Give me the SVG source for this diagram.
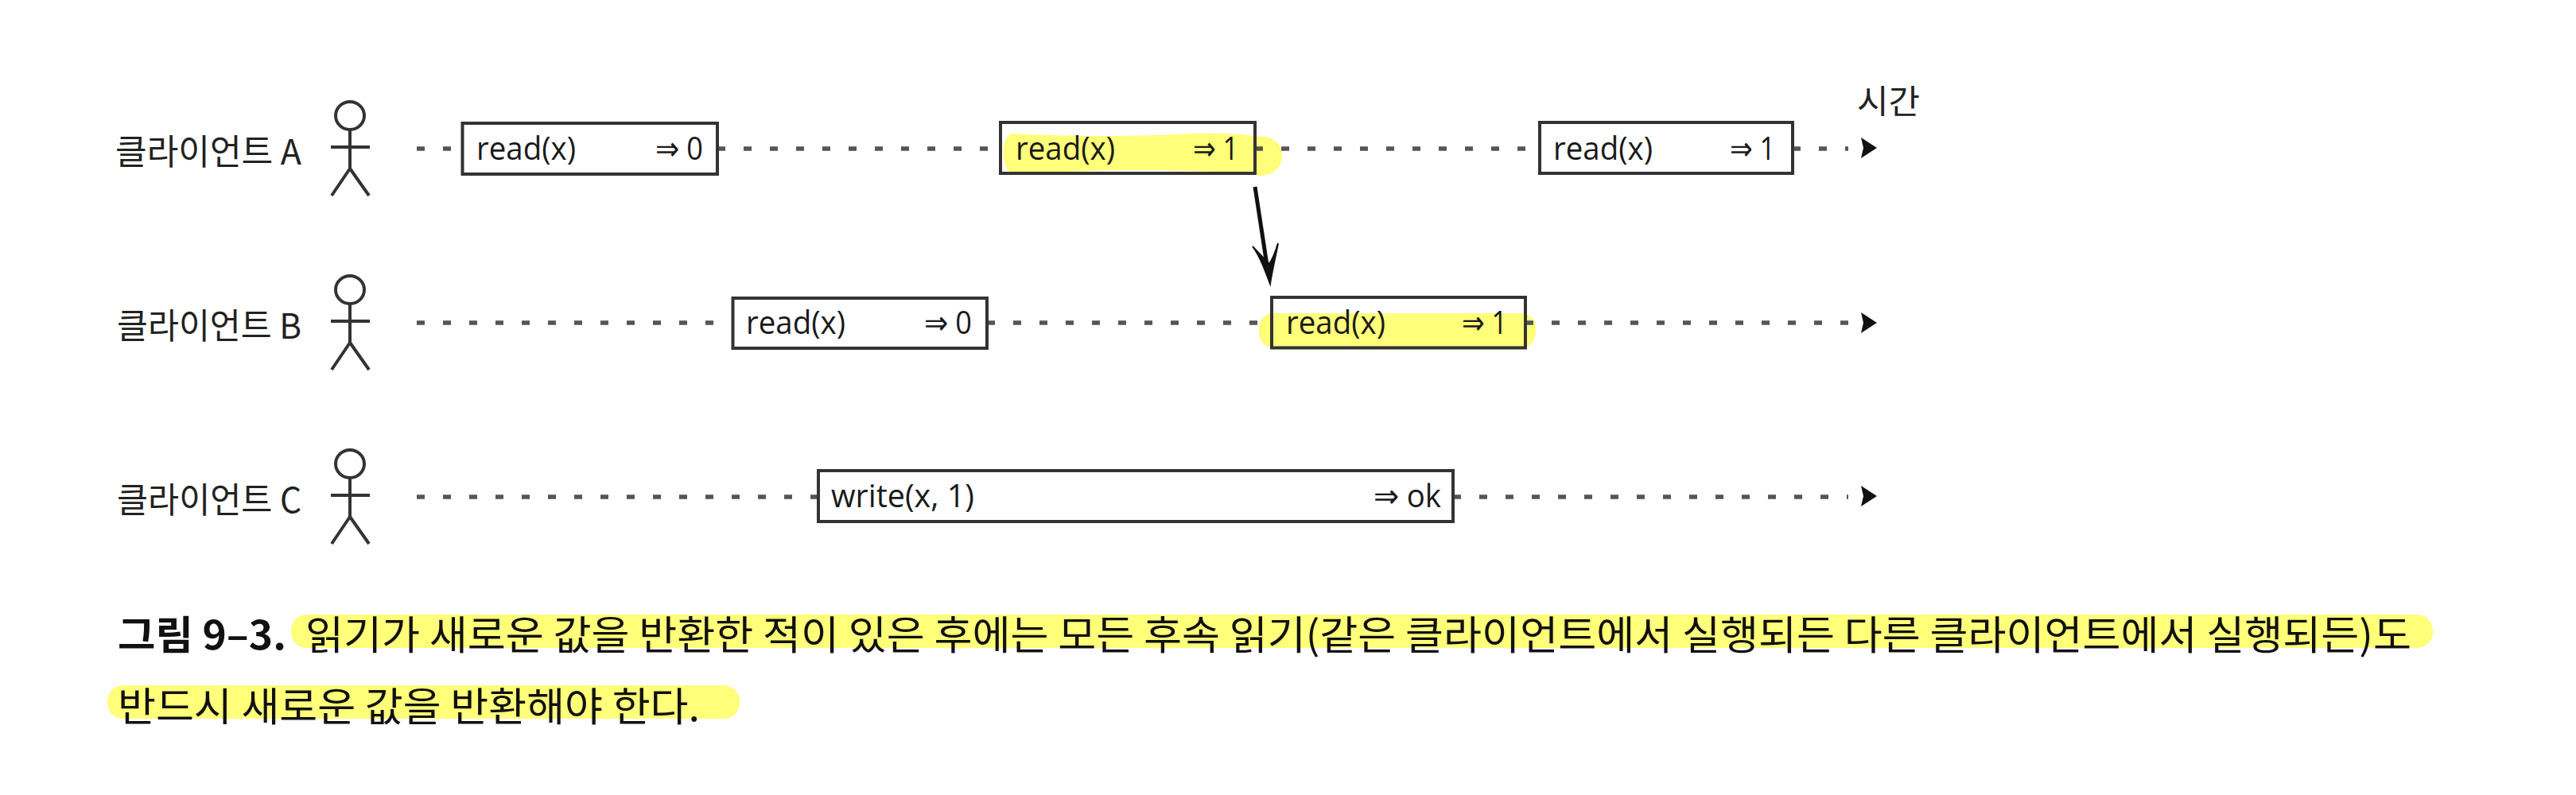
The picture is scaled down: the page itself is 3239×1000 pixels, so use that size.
<svg xmlns="http://www.w3.org/2000/svg" width="3239" height="1000" viewBox="0 0 3239 1000">
<style>
.ko{font-family:"Noto Sans CJK KR","Noto Sans",sans-serif;fill:#222}
.lb{font-size:44px;font-weight:400}
.t{font-family:"Open Sans","Noto Sans",sans-serif;font-size:41px;fill:#1a1a1a}
.cap{font-size:50px;fill:#111}
.box{fill:none;stroke:#333;stroke-width:4}
.man{fill:none;stroke:#333;stroke-width:4}
.dash{stroke:#555;stroke-width:5.500;stroke-dasharray:10 23;fill:none}
.hl{fill:#ffff7a}
.tip{fill:#111}
</style>
<defs>
<g id="man">
<ellipse class="man" cx="440" cy="145.500" rx="18" ry="17.500"/>
<path class="man" d="M440 163V212M416 185H465M440 212L417 246M440 212L464 246"/>
</g>
<path id="tip" class="tip" d="M2340 -13L2360 0L2340 13L2343 0Z"/>
</defs>
<rect width="3239" height="1000" fill="#fff"/>
<g id="highlights">
<path class="hl" d="M1272 168C1340 172 1440 172 1500 168C1540 166 1570 170 1590 172C1606 174 1613 186 1612 198C1611 212 1600 220 1585 221C1540 214 1420 212 1340 216C1310 218 1285 219 1272 217C1258 212 1258 172 1272 168Z"/>
<rect class="hl" x="1583" y="394" width="348" height="43" rx="18"/>
<rect class="hl" x="366" y="773" width="2693" height="42" rx="20"/>
<rect class="hl" x="135" y="862" width="795" height="42" rx="20"/>
</g>
<g id="connectors">
<path class="dash" d="M524 187H581M902 187H1258M1578 187H1936M2254 187H2324"/>
<path class="dash" d="M524 406H921M1241 406H1599M1918 406H2324"/>
<path class="dash" d="M524 625H1029M1827 625H2324"/>
<use href="#tip" y="186"/><use href="#tip" y="406"/><use href="#tip" y="624"/>
<path d="M1578 235L1594 340" fill="none" stroke="#111" stroke-width="5"/>
<path d="M1575 310C1584 322 1590 338 1597 357C1600 338 1604 322 1607 306C1604 316 1600 326 1596 332C1590 326 1582 318 1575 310Z" fill="#111" stroke="#111" stroke-width="2"/>
</g>
<g id="client-a">
<text class="ko lb" x="145" y="207" textLength="234" lengthAdjust="spacingAndGlyphs">클라이언트 A</text>
<use href="#man"/>
</g>
<g id="client-b" transform="translate(0 219)">
<text class="ko lb" x="147" y="207" textLength="232" lengthAdjust="spacingAndGlyphs">클라이언트 B</text>
<use href="#man"/>
</g>
<g id="client-c" transform="translate(0 438)">
<text class="ko lb" x="147" y="207" textLength="232" lengthAdjust="spacingAndGlyphs">클라이언트 C</text>
<use href="#man"/>
</g>
<g id="a1"><rect class="box" x="581.500" y="155" width="320.500" height="64"/><text class="t" x="599" y="201" textLength="125" lengthAdjust="spacingAndGlyphs">read(x)</text><text class="t" x="824" y="201" textLength="60" lengthAdjust="spacingAndGlyphs">⇒ 0</text></g>
<g id="a2"><rect class="box" x="1258" y="154" width="320" height="64"/><text class="t" x="1277" y="201" textLength="125" lengthAdjust="spacingAndGlyphs">read(x)</text><text class="t" x="1500" y="201" textLength="57" lengthAdjust="spacingAndGlyphs">⇒ 1</text></g>
<g id="a3"><rect class="box" x="1936" y="154" width="318" height="64"/><text class="t" x="1953" y="201" textLength="125" lengthAdjust="spacingAndGlyphs">read(x)</text><text class="t" x="2175" y="201" textLength="57" lengthAdjust="spacingAndGlyphs">⇒ 1</text></g>
<g id="b1"><rect class="box" x="921.500" y="375" width="319.500" height="63"/><text class="t" x="938" y="420" textLength="125" lengthAdjust="spacingAndGlyphs">read(x)</text><text class="t" x="1162" y="420" textLength="60" lengthAdjust="spacingAndGlyphs">⇒ 0</text></g>
<g id="b2"><rect class="box" x="1599" y="374" width="319" height="63.500"/><text class="t" x="1617" y="420" textLength="125" lengthAdjust="spacingAndGlyphs">read(x)</text><text class="t" x="1838" y="420" textLength="57" lengthAdjust="spacingAndGlyphs">⇒ 1</text></g>
<g id="c1"><rect class="box" x="1029" y="592" width="798" height="64"/><text class="t" x="1045" y="638" textLength="180" lengthAdjust="spacingAndGlyphs">write(x, 1)</text><text class="t" x="1727" y="638" textLength="85" lengthAdjust="spacingAndGlyphs">⇒ ok</text></g>
<g id="time"><text class="ko" font-size="42" x="2335" y="143" textLength="79" lengthAdjust="spacingAndGlyphs">시간</text></g>
<g id="caption">
<text class="ko cap" font-weight="700" x="148" y="817" textLength="212" lengthAdjust="spacingAndGlyphs">그림 9–3.</text>
<text class="ko cap" x="384" y="817" textLength="2648" lengthAdjust="spacingAndGlyphs">읽기가 새로운 값을 반환한 적이 있은 후에는 모든 후속 읽기(같은 클라이언트에서 실행되든 다른 클라이언트에서 실행되든)도</text>
<text class="ko cap" x="148" y="907" textLength="732" lengthAdjust="spacingAndGlyphs">반드시 새로운 값을 반환해야 한다.</text>
</g>
</svg>
